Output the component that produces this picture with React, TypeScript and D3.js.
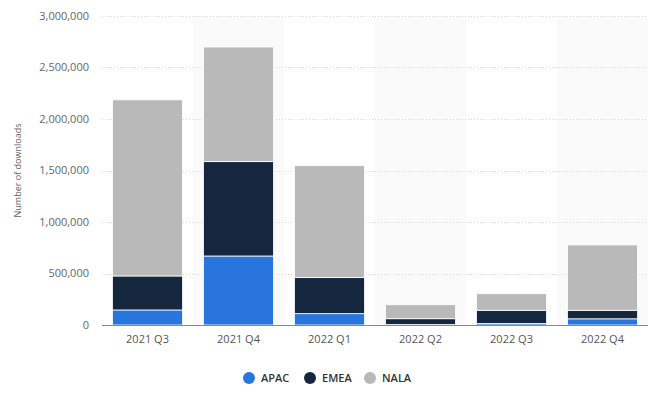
import { useEffect, useRef } from 'react';
import * as d3 from 'd3';

const quarters = ['2021 Q3', '2021 Q4', '2022 Q1', '2022 Q2', '2022 Q3', '2022 Q4'];
const apac = [146000, 670000, 110000, 4000, 15000, 60000];
const emea = [330000, 916000, 350000, 57000, 128000, 83000];
const nala = [1710000, 1113000, 1087000, 136000, 161000, 634000];
const yTicks = [0, 500000, 1000000, 1500000, 2000000, 2500000, 3000000];
const seriesNames = ['APAC', 'EMEA', 'NALA'];
const colors = ['#2876dd', '#14273e', '#b9b9b9'];

export default function App() {
  const svgRef = useRef<SVGSVGElement>(null);

  useEffect(() => {
    if (!svgRef.current) return;
    const width = 660;
    const height = 394;
    const margin = { top: 16, right: 12, bottom: 69, left: 102 };
    const font = '"Open Sans", "Noto Sans", sans-serif';

    const svg = d3.select(svgRef.current);
    svg.selectAll('*').remove();

    const rows = quarters.map((q, i) => ({ q, APAC: apac[i], EMEA: emea[i], NALA: nala[i] }));
    const stacked = d3.stack<any>().keys(seriesNames)(rows);

    const x = d3.scaleBand().domain(quarters).range([margin.left, width - margin.right]).paddingInner(0).paddingOuter(0);
    const y = d3.scaleLinear().domain([0, 3000000]).range([height - margin.bottom, margin.top]);
    const barPad = x.bandwidth() * 0.115;

    // alternating background bands
    svg.append('g')
      .selectAll('rect')
      .data(quarters.filter((_, i) => i % 2 === 1))
      .enter()
      .append('rect')
      .attr('x', d => x(d)!)
      .attr('y', margin.top)
      .attr('width', x.bandwidth())
      .attr('height', y(0) - margin.top)
      .attr('fill', '#fafafa');

    // gridlines
    svg.append('g')
      .selectAll('line')
      .data(yTicks.filter(t => t > 0))
      .enter()
      .append('line')
      .attr('x1', margin.left)
      .attr('x2', width - margin.right)
      .attr('y1', d => Math.round(y(d)) + 0.5)
      .attr('y2', d => Math.round(y(d)) + 0.5)
      .attr('stroke', '#d8d8d8')
      .attr('stroke-dasharray', '1,2');

    // y tick labels
    svg.append('g')
      .selectAll('text')
      .data(yTicks)
      .enter()
      .append('text')
      .attr('x', 89)
      .attr('y', d => y(d))
      .attr('dy', '0.35em')
      .attr('text-anchor', 'end')
      .attr('font-family', font)
      .attr('font-size', 11)
      .attr('fill', '#666')
      .text(d => d3.format(',')(d));

    // y title
    svg.append('text')
      .attr('transform', `translate(21,${(margin.top + y(0)) / 2}) rotate(-90)`)
      .attr('text-anchor', 'middle')
      .attr('font-family', font)
      .attr('font-size', 9)
      .attr('fill', '#666')
      .text('Number of downloads');

    // bars
    stacked.forEach((layer, si) => {
      svg.append('g')
        .selectAll('rect')
        .data(layer)
        .enter()
        .append('rect')
        .attr('x', d => x(d.data.q)! + barPad)
        .attr('width', x.bandwidth() - 2 * barPad)
        .attr('y', d => y(d[1]))
        .attr('height', d => Math.max(0, y(d[0]) - y(d[1])))
        .attr('fill', colors[si])
        .attr('stroke', '#ffffff')
        .attr('stroke-width', 0.8);
    });

    // x axis line
    svg.append('line')
      .attr('x1', margin.left)
      .attr('x2', width - margin.right)
      .attr('y1', y(0) + 0.5)
      .attr('y2', y(0) + 0.5)
      .attr('stroke', '#888')
      .attr('stroke-width', 1);

    // x labels
    svg.append('g')
      .selectAll('text')
      .data(quarters)
      .enter()
      .append('text')
      .attr('x', d => x(d)! + x.bandwidth() / 2)
      .attr('y', y(0) + 18)
      .attr('text-anchor', 'middle')
      .attr('font-family', font)
      .attr('font-size', 11)
      .attr('fill', '#555')
      .text(d => d);

    // legend
    const legendX = [249, 310, 370];
    const legend = svg.append('g')
      .selectAll('g')
      .data(seriesNames)
      .enter()
      .append('g')
      .attr('transform', (_, i) => `translate(${legendX[i]},378)`);
    legend.append('circle').attr('r', 6).attr('fill', (_, i) => colors[i]);
    legend.append('text')
      .attr('x', 12)
      .attr('dy', '0.35em')
      .attr('font-family', font)
      .attr('font-size', 11)
      .attr('font-weight', 600)
      .attr('fill', '#333')
      .text(d => d);
  }, []);

  return (
    <div style={{ position: 'absolute', left: 0, top: 0 }}>
      <svg ref={svgRef} width={660} height={394} style={{ display: 'block' }} />
    </div>
  );
}
